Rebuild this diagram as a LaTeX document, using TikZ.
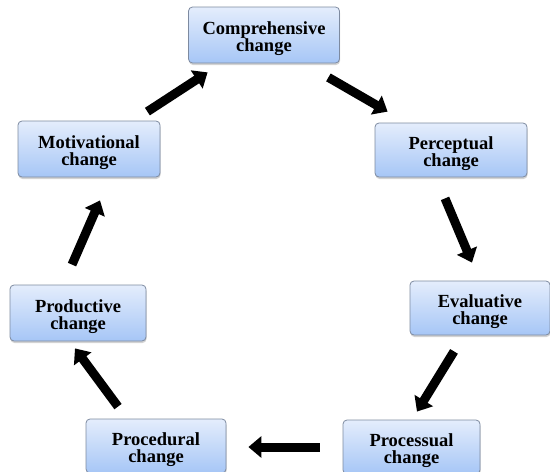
\documentclass[tikz,border=0pt]{standalone}
\usepackage{fontspec}
\setmainfont{Liberation Serif}
\usepackage{tikz}
\usetikzlibrary{arrows.meta,shadows}

\definecolor{boxtop}{RGB}{228,237,252}
\definecolor{boxbottom}{RGB}{166,198,246}
\definecolor{boxline}{RGB}{125,138,160}

\begin{document}
\begin{tikzpicture}[x=1pt, y=-1pt,
	stage/.style={draw=boxline, line width=0.8pt, rounded corners=4pt,
		top color=boxtop, bottom color=boxbottom,
		drop shadow={shadow xshift=0.5pt, shadow yshift=-2pt, opacity=0.35},
		align=center, font=\bfseries\fontsize{18.5}{17.5}\selectfont,
		execute at begin node={\rule{0pt}{38pt}},
		minimum width=140pt, minimum height=54pt, inner sep=0pt},
	flow/.style={line width=9pt, -{Triangle[length=13pt,width=21pt]}}]
		\useasboundingbox (0,0) rectangle (550,472);

		\path (264,35) node[stage, minimum width=151pt, minimum height=56pt] (comp) {Comprehensive\\change}
		(451,150) node[stage, minimum width=152pt] (perc) {Perceptual\\change}
		(480,308) node[stage] (eval) {Evaluative\\change}
		(411.5,447) node[stage, minimum width=137pt] (procs) {Processual\\change}
		(156,446) node[stage] (proced) {Procedural\\change}
		(78,313) node[stage, minimum width=136pt, minimum height=56pt] (prod) {Productive\\change}
		(89,149) node[stage, minimum width=142pt, minimum height=56pt] (motiv) {Motivational\\change};

		\draw[flow] ([shift={(-11.5,14)}]comp.south east) -- ([shift={(13,-11)}]perc.north west);
		\draw[flow] ([shift={(-6,21)}]perc.south) -- ([shift={(-8,-18)}]eval.north);
		\draw[flow] ([shift={(-26,16)}]eval.south) -- ([shift={(5.5,-8)}]procs.north);
		\draw[flow] ([shift={(-23,0)}]procs.west) -- ([shift={(22,1)}]proced.east);
		\draw[flow] ([shift={(-38,-12)}]proced.north) -- ([shift={(-3,7)}]prod.south);
		\draw[flow] ([shift={(-6,-20)}]prod.north) -- ([shift={(11,23)}]motiv.south);
		\draw[flow] ([shift={(-13,-9)}]motiv.north east) -- ([shift={(19.5,9)}]comp.south west);
	\end{tikzpicture}
\end{document}
